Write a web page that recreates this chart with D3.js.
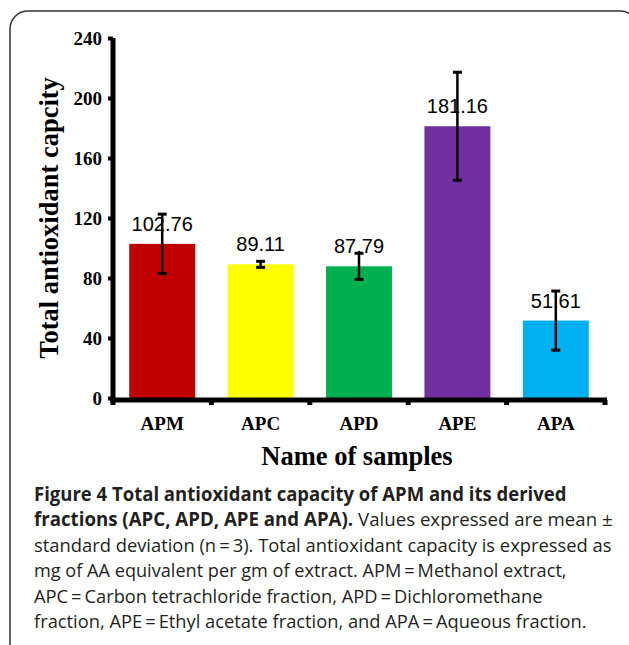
<!DOCTYPE html>
<html>
<head>
<meta charset="utf-8">
<script src="https://cdn.jsdelivr.net/npm/d3@7"></script>
<style>
  body { margin: 0; background: #fff; }
  svg { display: block; }
</style>
</head>
<body>
<div id="chart"></div>
<script>
// chart data
const samples = ['APM', 'APC', 'APD', 'APE', 'APA'];
const means = [102.76, 89.11, 87.79, 181.16, 51.61];
const sds = [19.8, 2.0, 8.7, 36.0, 19.7];
const barColors = ['#C00000', '#FFFF00', '#00B050', '#7030A0', '#00B0F0'];
const yTicks = [0, 40, 80, 120, 160, 200, 240];

const captionLines = [
  [{ t: 'Figure 4 Total antioxidant capacity of APM and its derived', b: true }],
  [{ t: 'fractions (APC, APD, APE and APA).', b: true }, { t: ' Values expressed are mean \u00b1', b: false }],
  [{ t: 'standard deviation (n\u2009=\u20093). Total antioxidant capacity is expressed as', b: false }],
  [{ t: 'mg of AA equivalent per gm of extract. APM\u2009=\u2009Methanol extract,', b: false }],
  [{ t: 'APC\u2009=\u2009Carbon tetrachloride fraction, APD\u2009=\u2009Dichloromethane', b: false }],
  [{ t: 'fraction, APE\u2009=\u2009Ethyl acetate fraction, and APA\u2009=\u2009Aqueous fraction.', b: false }],
];
const captionWidths = [533, 579, 578, 533, 509, 553];

const width = 629;
const height = 645;

const svg = d3.select('#chart').append('svg')
  .attr('width', width)
  .attr('height', height);

// outer frame
svg.append('rect')
  .attr('x', 10)
  .attr('y', 11)
  .attr('width', 628)
  .attr('height', 660)
  .attr('rx', 18)
  .attr('fill', 'none')
  .attr('stroke', '#333')
  .attr('stroke-width', 1.5);

const x = d3.scaleBand()
  .domain(samples)
  .range([113, 605])
  .paddingInner(0.33)
  .paddingOuter(0.165);

const y = d3.scaleLinear()
  .domain([0, 240])
  .range([398, 38]);

// bars
svg.selectAll('.bar')
  .data(samples)
  .enter()
  .append('rect')
  .attr('class', 'bar')
  .attr('x', (d) => x(d))
  .attr('width', x.bandwidth())
  .attr('y', (d, i) => y(means[i]))
  .attr('height', (d, i) => y(0) - y(means[i]))
  .attr('fill', (d, i) => barColors[i]);

// value labels
svg.selectAll('.val')
  .data(samples)
  .enter()
  .append('text')
  .attr('class', 'val')
  .attr('x', (d) => x(d) + x.bandwidth() / 2)
  .attr('y', (d, i) => y(means[i]) - 13)
  .attr('text-anchor', 'middle')
  .style('font-family', 'Liberation Sans, Arial, sans-serif')
  .style('font-size', '20px')
  .style('fill', '#000')
  .text((d, i) => means[i].toFixed(2));

// error bars
const err = svg.selectAll('.err')
  .data(samples)
  .enter()
  .append('g')
  .attr('class', 'err')
  .attr('stroke', '#000')
  .attr('stroke-width', 2.5);

err.append('line')
  .attr('x1', (d) => x(d) + x.bandwidth() / 2)
  .attr('x2', (d) => x(d) + x.bandwidth() / 2)
  .attr('y1', (d, i) => y(means[i] + sds[i]))
  .attr('y2', (d, i) => y(means[i] - sds[i]));

[1, -1].forEach((s) => {
  err.append('line')
    .attr('x1', (d) => x(d) + x.bandwidth() / 2 - 4.5)
    .attr('x2', (d) => x(d) + x.bandwidth() / 2 + 4.5)
    .attr('y1', (d, i) => y(means[i] + s * sds[i]))
    .attr('y2', (d, i) => y(means[i] + s * sds[i]))
    .attr('stroke-width', 3);
});

// y axis
const yAxis = svg.append('g')
  .attr('transform', 'translate(113,0)')
  .call(d3.axisLeft(y).tickValues(yTicks).tickSize(5).tickPadding(6));
yAxis.select('.domain')
  .attr('d', `M0,${y(240)}V${y(0) + 2}`)
  .attr('stroke-width', 5);
yAxis.selectAll('.tick line').attr('stroke-width', 4);
yAxis.selectAll('.tick text')
  .style('font-family', 'Liberation Serif, Times New Roman, serif')
  .style('font-weight', 'bold')
  .style('font-size', '19px')
  .attr('fill', '#000');

// x axis
const bounds = samples.map((d) => x(d) - (x.step() - x.bandwidth()) / 2);
bounds.push(605);
svg.append('line')
  .attr('x1', 110)
  .attr('x2', 607)
  .attr('y1', 400)
  .attr('y2', 400)
  .attr('stroke', '#000')
  .attr('stroke-width', 5);
svg.selectAll('.xtick')
  .data(bounds)
  .enter()
  .append('line')
  .attr('class', 'xtick')
  .attr('x1', (d) => d)
  .attr('x2', (d) => d)
  .attr('y1', 400)
  .attr('y2', 405)
  .attr('stroke', '#000')
  .attr('stroke-width', 5);

svg.selectAll('.xlab')
  .data(samples)
  .enter()
  .append('text')
  .attr('class', 'xlab')
  .attr('x', (d) => x(d) + x.bandwidth() / 2)
  .attr('y', 430)
  .attr('text-anchor', 'middle')
  .style('font-family', 'Liberation Serif, Times New Roman, serif')
  .style('font-weight', 'bold')
  .style('font-size', '19px')
  .text((d) => d);

// axis titles
svg.append('text')
  .attr('transform', 'translate(58,218) rotate(-90)')
  .attr('text-anchor', 'middle')
  .style('font-family', 'Liberation Serif, Times New Roman, serif')
  .style('font-weight', 'bold')
  .style('font-size', '26.5px')
  .text('Total antioxidant capcity');

svg.append('text')
  .attr('x', 357)
  .attr('y', 465)
  .attr('text-anchor', 'middle')
  .style('font-family', 'Liberation Serif, Times New Roman, serif')
  .style('font-weight', 'bold')
  .style('font-size', '26.5px')
  .text('Name of samples');

// caption
captionLines.forEach((parts, i) => {
  const t = svg.append('text')
    .attr('x', 0)
    .attr('y', 0)
    .style('font-family', 'Open Sans, sans-serif')
    .style('font-size', '19px')
    .style('fill', '#231f20');
  parts.forEach((p) => {
    t.append('tspan')
      .style('font-weight', p.b ? 'bold' : 'normal')
      .attr('xml:space', 'preserve')
      .text(p.t);
  });
  const w = t.node().getComputedTextLength();
  t.attr('transform', `translate(34,${501 + i * 25.4}) scale(${captionWidths[i] / w},1)`);
});
</script>
</body>
</html>
